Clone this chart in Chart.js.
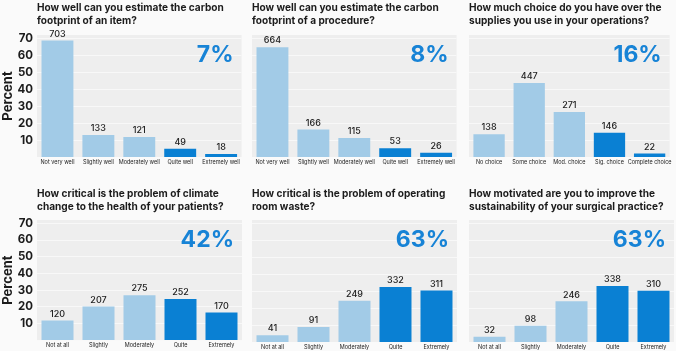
<!DOCTYPE html>
<html lang="en">
<head>
  <meta charset="UTF-8">
  <title>Survey</title>
  <script src="https://cdn.jsdelivr.net/npm/chart.js"></script>
  <style>
    body { margin: 0; background: #fafafa; width: 676px; height: 351px; position: relative; overflow: hidden; }
    .painel { position: absolute; }
  </style>
</head>
<body>
  <div class="painel" style="left:0px;top:0px;width:242px;height:172px"><canvas id="g1"></canvas></div>
  <div class="painel" style="left:252px;top:0px;width:205px;height:172px"><canvas id="g2"></canvas></div>
  <div class="painel" style="left:469px;top:0px;width:205px;height:172px"><canvas id="g3"></canvas></div>
  <div class="painel" style="left:0px;top:185px;width:242px;height:166px"><canvas id="g4"></canvas></div>
  <div class="painel" style="left:252px;top:185px;width:205px;height:166px"><canvas id="g5"></canvas></div>
  <div class="painel" style="left:469px;top:185px;width:205px;height:166px"><canvas id="g6"></canvas></div>

<script>
  // categorias
  const catWell = ['Not very well', 'Slightly well', 'Moderately well', 'Quite well', 'Extremely well'];
  const catChoice = ['No choice', 'Some choice', 'Mod. choice', 'Sig. choice', 'Complete choice'];
  const catLevel = ['Not at all', 'Slightly', 'Moderately', 'Quite', 'Extremely'];

  // respostas (numero absoluto, mostrado em cima da barra)
  const n1 = [703, 133, 121, 49, 18];
  const n2 = [664, 166, 115, 53, 26];
  const n3 = [138, 447, 271, 146, 22];
  const n4 = [120, 207, 275, 252, 170];
  const n5 = [41, 91, 249, 332, 311];
  const n6 = [32, 98, 246, 338, 310];

  // percentuais (altura das barras)
  const p1 = [68.7, 13.0, 11.8, 4.8, 1.8];
  const p2 = [64.8, 16.2, 11.2, 5.2, 2.5];
  const p3 = [13.5, 43.7, 26.5, 14.3, 2.1];
  const p4 = [11.7, 20.2, 26.9, 24.6, 16.6];
  const p5 = [4.0, 8.9, 24.3, 32.4, 30.4];
  const p6 = [3.1, 9.6, 24.0, 33.0, 30.3];

  const destaques = ['7%', '8%', '16%', '42%', '63%', '63%'];

  const titulos = [
    ['How well can you estimate the carbon', 'footprint of an item?'],
    ['How well can you estimate the carbon', 'footprint of a procedure?'],
    ['How much choice do you have over the', 'supplies you use in your operations?'],
    ['How critical is the problem of climate', 'change to the health of your patients?'],
    ['How critical is the problem of operating', 'room waste?'],
    ['How motivated are you to improve the', 'sustainability of your surgical practice?']
  ];

  const yTicks = [10, 20, 30, 40, 50, 60, 70];

  const azulClaro = '#a2cbe7';
  const azulEscuro = '#0a80d3';
  const fonte = 'Inter';

  // fundo cinza da area do grafico
  const fundoPlot = {
    id: 'fundoPlot',
    beforeDraw(chart) {
      const a = chart.chartArea;
      const ctx = chart.ctx;
      ctx.save();
      ctx.fillStyle = '#eeeeee';
      ctx.fillRect(a.left, a.top, a.right - a.left, a.bottom - a.top);
      ctx.restore();
    }
  };

  // numeros em cima das barras + percentual grande
  const rotulos = {
    id: 'rotulos',
    afterDatasetsDraw(chart, args, opts) {
      const ctx = chart.ctx;
      const meta = chart.getDatasetMeta(0);
      ctx.save();
      ctx.fillStyle = '#222';
      ctx.font = '500 9px ' + fonte;
      ctx.textAlign = 'center';
      ctx.textBaseline = 'bottom';
      meta.data.forEach(function (bar, i) {
        ctx.fillText(opts.contagem[i], bar.x, bar.y - 2);
      });
      const a = chart.chartArea;
      ctx.fillStyle = '#1783d6';
      ctx.font = 'bold 23px ' + fonte;
      ctx.textAlign = 'right';
      ctx.textBaseline = 'top';
      ctx.fillText(opts.destaque, a.right - 8, a.top + 9);
      ctx.restore();
    }
  };

  function plotarGrafico(id, categorias, valores, contagem, titulo, destaque, primeiraColuna, alturaX, padTopo) {
    new Chart(document.getElementById(id), {
      type: 'bar',
      data: {
        labels: categorias,
        datasets: [{
          data: valores,
          backgroundColor: valores.map(function (v, i) { return i >= 3 ? azulEscuro : azulClaro; }),
          barPercentage: 0.78,
          categoryPercentage: 1
        }]
      },
      options: {
        responsive: true,
        maintainAspectRatio: false,
        animation: false,
        layout: { padding: 0 },
        plugins: {
          legend: { display: false },
          tooltip: { enabled: false },
          title: {
            display: true,
            text: titulo,
            align: 'start',
            fullSize: false,
            color: '#1c1c1c',
            font: { family: fonte, size: 10.1, weight: 'bold', lineHeight: '13px' },
            padding: { top: padTopo, bottom: 9 - padTopo }
          },
          rotulos: { contagem: contagem, destaque: destaque }
        },
        scales: {
          x: {
            grid: { display: false, drawTicks: false },
            border: { display: false },
            afterFit: function (s) { s.height = alturaX; },
            ticks: {
              autoSkip: false,
              maxRotation: 0,
              padding: 2,
              color: '#222',
              font: { family: fonte, size: 5.5 }
            }
          },
          y: {
            min: 0,
            max: 72,
            afterFit: function (s) { s.width = primeiraColuna ? 37 : 0; },
            afterBuildTicks: function (s) {
              s.ticks = yTicks.map(function (v) { return { value: v }; });
            },
            border: { display: false },
            grid: { color: '#f8f8f8', lineWidth: 1, drawTicks: false },
            ticks: {
              display: primeiraColuna,
              padding: 4,
              color: '#1c1c1c',
              font: { family: fonte, size: 11.5, weight: 'bold' }
            },
            title: {
              display: primeiraColuna,
              text: 'Percent',
              color: '#1c1c1c',
              padding: 0,
              font: { family: fonte, size: 13, weight: 'bold' }
            }
          }
        }
      },
      plugins: [fundoPlot, rotulos]
    });
  }

  plotarGrafico('g1', catWell, p1, n1, titulos[0], destaques[0], true, 15, 1);
  plotarGrafico('g2', catWell, p2, n2, titulos[1], destaques[1], false, 15, 1);
  plotarGrafico('g3', catChoice, p3, n3, titulos[2], destaques[2], false, 15, 1);
  plotarGrafico('g4', catLevel, p4, n4, titulos[3], destaques[3], true, 9, 2);
  plotarGrafico('g5', catLevel, p5, n5, titulos[4], destaques[4], false, 9, 2);
  plotarGrafico('g6', catLevel, p6, n6, titulos[5], destaques[5], false, 9, 2);
</script>
</body>
</html>
